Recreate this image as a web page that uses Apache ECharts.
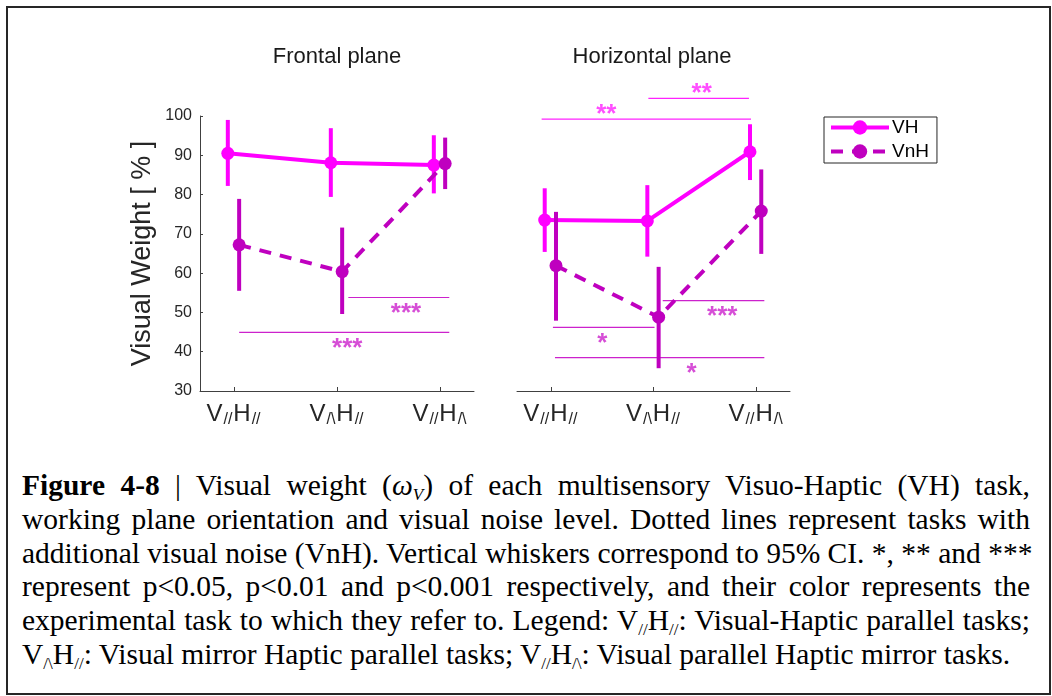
<!DOCTYPE html>
<html>
<head>
<meta charset="utf-8">
<script src="https://cdn.jsdelivr.net/npm/echarts@6/dist/echarts.min.js"></script>
<style>
  html, body { margin: 0; padding: 0; background: #fff; }
  #frame { position: absolute; left: 6px; top: 6px; width: 1041px; height: 685px; border: 2px solid #262626; }
  #chart { position: absolute; left: 0; top: 0; width: 1052px; height: 460px; }
  #caption { position: absolute; left: 22px; top: 469px; width: 1008px;
             font-family: "Liberation Serif", "Times New Roman", serif; font-size: 29.5px; line-height: 33.8px; color: #000; }
  .ln { text-align: justify; text-align-last: justify; white-space: nowrap; }
  .last { text-align: left; text-align-last: left; }
  .sb { font-size: 58%; position: relative; top: 0.3em; line-height: 0; }
</style>
</head>
<body>
<div id="frame"></div>
<div id="chart"></div>
<div id="caption">
  <div class="ln"><b>Figure 4-8</b> | Visual weight (<i>ω<span class="sb">V</span></i>) of each multisensory Visuo-Haptic (VH) task,</div>
  <div class="ln">working plane orientation and visual noise level. Dotted lines represent tasks with</div>
  <div class="ln">additional visual noise (VnH). Vertical whiskers correspond to 95% CI. *, ** and ***</div>
  <div class="ln">represent p&lt;0.05, p&lt;0.01 and p&lt;0.001 respectively, and their color represents the</div>
  <div class="ln">experimental task to which they refer to. Legend: V<span class="sb">//</span>H<span class="sb">//</span>: Visual-Haptic parallel tasks;</div>
  <div class="ln last">V<span class="sb">/\</span>H<span class="sb">//</span>: Visual mirror Haptic parallel tasks; V<span class="sb">//</span>H<span class="sb">/\</span>: Visual parallel Haptic mirror tasks.</div>
</div>
<script>
// Task conditions on the x axis and their labels (base, subscript, base, subscript)
const conditions = [1, 2, 3];
const tickLabels = [
  ['V', '//', 'H', '//'],
  ['V', '/\\', 'H', '//'],
  ['V', '//', 'H', '/\\']
];
const panelTitles = ['Frontal plane', 'Horizontal plane'];
const seriesNames = ['VH', 'VnH'];

// Frontal plane: mean visual weight [%] and 95% CI bounds
const frontalVH      = [90.5, 88.1, 87.5];
const frontalVHLow   = [82.2, 79.4, 80.3];
const frontalVHHigh  = [99.0, 96.9, 95.1];
const frontalVnH     = [67.2, 60.4, 87.9];
const frontalVnHLow  = [55.5, 49.6, 81.4];
const frontalVnHHigh = [78.9, 71.6, 94.5];

// Horizontal plane
const horizontalVH      = [73.5, 73.3, 90.9];
const horizontalVHLow   = [65.4, 64.2, 83.7];
const horizontalVHHigh  = [81.6, 82.4, 97.9];
const horizontalVnH     = [61.9, 48.8, 75.8];
const horizontalVnHLow  = [47.9, 35.8, 64.9];
const horizontalVnHHigh = [75.6, 61.6, 86.4];

// Significance brackets: [level, from, to, star position, stars, task]
const frontalSig = [
  [53.8, 2.11, 3.09, 2.67, '***', 'VnH'],
  [44.9, 1.05, 3.09, 2.10, '***', 'VnH']
];
const horizontalSig = [
  [104.5, 1.95, 2.93, 2.47, '**', 'VH'],
  [99.2, 0.91, 2.95, 1.54, '**', 'VH'],
  [53.0, 2.09, 3.08, 2.67, '***', 'VnH'],
  [46.2, 1.02, 2.01, 1.50, '*', 'VnH'],
  [38.5, 1.04, 3.08, 2.37, '*', 'VnH']
];

const colors = { VH: '#ff00ff', VnH: '#bf00bf' };
const sigColors = { VH: '#ff22ff', VnH: '#cc22cc' };
const dodge = { VH: -0.06, VnH: 0.05 };
const sans = '"Liberation Sans", Arial, Helvetica, sans-serif';
const axisGrey = '#262626';

const panels = [
  { VH: [frontalVH, frontalVHLow, frontalVHHigh], VnH: [frontalVnH, frontalVnHLow, frontalVnHHigh], sig: frontalSig },
  { VH: [horizontalVH, horizontalVHLow, horizontalVHHigh], VnH: [horizontalVnH, horizontalVnHLow, horizontalVnHHigh], sig: horizontalSig }
];

const series = [];
panels.forEach((panel, p) => {
  seriesNames.forEach(name => {
    const [mean, low, high] = panel[name];
    const c = colors[name];
    series.push({
      name: name,
      type: 'line',
      xAxisIndex: p, yAxisIndex: p,
      data: conditions.map((x, i) => [x + dodge[name], mean[i]]),
      symbol: 'circle', symbolSize: 13,
      lineStyle: { color: c, width: 4, type: name === 'VnH' ? [12, 9] : 'solid' },
      itemStyle: { color: c },
      z: name === 'VnH' ? 4 : 3,
      clip: false
    });
    series.push({
      type: 'custom',
      xAxisIndex: p, yAxisIndex: p,
      data: conditions.map((x, i) => [x + dodge[name], low[i], high[i]]),
      encode: { x: 0, y: [1, 2] },
      z: name === 'VnH' ? 4 : 3,
      renderItem: (params, api) => {
        const a = api.coord([api.value(0), api.value(1)]);
        const b = api.coord([api.value(0), api.value(2)]);
        return { type: 'line', shape: { x1: a[0], y1: a[1], x2: b[0], y2: b[1] },
                 style: { stroke: c, lineWidth: 4 } };
      }
    });
  });
  // VH brackets carry their stars above the bar, VnH brackets below it
  panel.sig.forEach(([level, from, to, at, stars, task]) => {
    const c = sigColors[task];
    series.push({
      type: 'line', xAxisIndex: p, yAxisIndex: p, clip: false,
      data: [[from, level], [to, level]],
      symbol: 'none', silent: true,
      lineStyle: { color: c, width: 1.2 }, z: 2
    });
    series.push({
      type: 'scatter', xAxisIndex: p, yAxisIndex: p, clip: false,
      data: [[at, level]], symbolSize: 0.1, silent: true,
      itemStyle: { color: 'transparent' },
      label: { show: true, position: 'inside', offset: [0, task === 'VH' ? -4 : 16.5], formatter: stars,
               color: c, fontSize: 26, fontWeight: 'bold', fontFamily: sans }
    });
  });
});

const xRich = {
  v: { fontSize: 24, fontFamily: sans, color: axisGrey, lineHeight: 28 },
  s: { fontSize: 16, fontFamily: sans, color: axisGrey, lineHeight: 28, verticalAlign: 'bottom', padding: [0, 1, 0, 1] }
};

function xAxisFor(p) {
  return {
    type: 'value', gridIndex: p, min: 0.67, max: 3.33,
    axisLine: { show: true, onZero: false, lineStyle: { color: '#404040', width: 1 } },
    axisTick: { show: true, inside: true, length: 4, customValues: conditions, lineStyle: { color: '#404040' } },
    splitLine: { show: false },
    axisLabel: {
      show: true, margin: 9, customValues: conditions, rich: xRich,
      formatter: v => {
        const t = tickLabels[Math.round(v) - 1];
        return t ? `{v|${t[0]}}{s|${t[1]}}{v|${t[2]}}{s|${t[3]}}` : '';
      }
    }
  };
}

const chart = echarts.init(document.getElementById('chart'), null, { renderer: 'canvas' });
chart.setOption({
  animation: false,
  title: [
    { text: panelTitles[0], left: 337, top: 46, textAlign: 'center', padding: 0,
      textStyle: { fontSize: 22, fontWeight: 'normal', color: '#1a1a1a', fontFamily: sans } },
    { text: panelTitles[1], left: 652, top: 46, textAlign: 'center', padding: 0,
      textStyle: { fontSize: 22, fontWeight: 'normal', color: '#1a1a1a', fontFamily: sans } }
  ],
  legend: {
    data: seriesNames, orient: 'vertical', left: 824, top: 117,
    itemWidth: 58, itemHeight: 18, itemGap: 5, padding: [1, 8, 2, 5],
    borderColor: '#262626', borderWidth: 1,
    lineStyle: { width: 4 },
    textStyle: { fontSize: 19, color: '#000', fontFamily: sans, padding: [0, 0, 0, -2] }
  },
  grid: [
    { left: 200, top: 116, width: 274, height: 275 },
    { left: 517, top: 116, width: 273, height: 275 }
  ],
  xAxis: [xAxisFor(0), xAxisFor(1)],
  yAxis: [
    {
      type: 'value', gridIndex: 0, min: 30, max: 100, interval: 10,
      name: 'Visual Weight [ % ]', nameLocation: 'middle', nameGap: 44,
      nameTextStyle: { fontSize: 27, color: axisGrey, fontFamily: sans },
      axisLine: { show: true, lineStyle: { color: '#404040', width: 1 } },
      axisTick: { show: true, inside: true, length: 3, lineStyle: { color: '#404040' } },
      splitLine: { show: false },
      axisLabel: { fontSize: 16, color: axisGrey, fontFamily: sans, margin: 8 }
    },
    {
      type: 'value', gridIndex: 1, min: 30, max: 100, interval: 10, show: false,
      splitLine: { show: false }
    }
  ],
  series: series
});
</script>
</body>
</html>
